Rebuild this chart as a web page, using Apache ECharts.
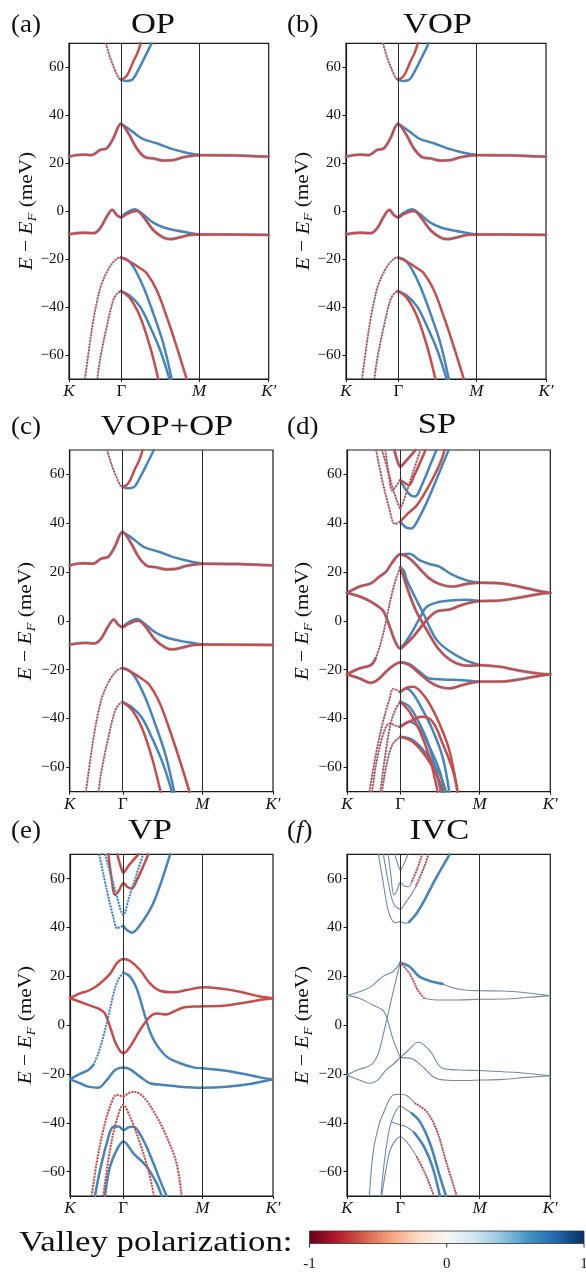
<!DOCTYPE html>
<html><head><meta charset="utf-8">
<script src="https://cdn.jsdelivr.net/npm/echarts@6/dist/echarts.min.js"></script>
<style>html,body{margin:0;padding:0;background:#fff}#c{width:586px;height:1274px}</style>
</head><body><div id="c"></div>
<script>
// ---------- axes / labels ----------
const kTicks = [0, 0.262, 0.652, 1];
const kLabels = ['K', 'Γ', 'M', 'K′'];
const eTicks = [-60, -40, -20, 0, 20, 40, 60];
const cbTicks = [-1, 0, 1];
const cbLabels = ['-1', '0', '1'];
const panelTitles = ['OP', 'VOP', 'VOP+OP', 'SP', 'VP', 'IVC'];
const panelTags = ['(a)', '(b)', '(c)', '(d)', '(e)', '(f)'];

// ---------- OP / VOP / VOP+OP bands [k, E(meV)] ----------
const opUpRedL = [[0.185,70],[0.205,64.2],[0.230,58.9],[0.247,55.8],[0.260,54.7]];
const opUpRedR = [[0.260,54.7],[0.289,56.4],[0.322,62.4],[0.342,65.8],[0.359,70]];
const opUpBlue = [[0.260,55.0],[0.285,54.3],[0.310,54.6],[0.325,55.6],[0.356,60.3],[0.389,65.8],[0.414,70]];
const opMidRed = [[0,22.7],[0.038,23.4],[0.072,23.6],[0.114,23.4],[0.155,25.5],[0.189,26.2],[0.222,30.4],[0.260,36.4],[0.297,32.5],[0.339,26.2],[0.381,22.5],[0.422,22.0],[0.472,21.1],[0.523,21.3],[0.573,22.5],[0.653,23.4],[0.823,23.3],[1,22.7]];
const opMidBlue = [[0.260,36.4],[0.297,34.5],[0.339,31.8],[0.372,30.0],[0.439,28.3],[0.506,26.2],[0.573,24.7],[0.653,23.4]];
const opLowRed = [[0,-9.7],[0.038,-9.2],[0.072,-9.0],[0.122,-9.2],[0.155,-7.2],[0.189,-2.3],[0.217,0.5],[0.239,-1.6],[0.260,-2.6],[0.289,-1.2],[0.339,0.1],[0.372,-2.3],[0.422,-7.9],[0.472,-11.0],[0.506,-11.7],[0.556,-10.9],[0.606,-9.9],[0.653,-9.7],[1,-9.9]];
const opLowBlue = [[0.260,-2.6],[0.289,-0.6],[0.331,0.8],[0.364,-0.9],[0.422,-4.8],[0.472,-6.7],[0.539,-8.1],[0.606,-9.1],[0.653,-9.7]];
const opV1L = [[0.080,-70],[0.102,-56.5],[0.122,-45.4],[0.142,-37.0],[0.164,-30.1],[0.205,-23.1],[0.239,-19.9],[0.260,-19.3]];
const opV1Red = [[0.260,-19.3],[0.306,-21.1],[0.356,-23.8],[0.389,-25.9],[0.439,-32.9],[0.489,-44.0],[0.539,-56.5],[0.589,-70]];
const opV1Blue = [[0.260,-19.3],[0.289,-20.1],[0.322,-23.1],[0.372,-31.5],[0.422,-42.6],[0.472,-55.1],[0.514,-70]];
const opV2L = [[0.142,-70],[0.155,-62.1],[0.189,-48.2],[0.222,-37.0],[0.242,-34.3],[0.260,-33.3]];
const opV2Red = [[0.260,-33.3],[0.306,-36.4],[0.356,-44.0],[0.406,-56.5],[0.447,-70]];
const opV2Blue = [[0.260,-33.3],[0.306,-35.4],[0.356,-39.8],[0.406,-48.2],[0.456,-57.9],[0.503,-70]];

// ---------- SP bands ----------
const spUpRed = [[0,11.5],[0.061,14.0],[0.118,15.4],[0.159,18.1],[0.192,20.1],[0.225,24.2],[0.262,27.2],[0.307,25.6],[0.356,21.5],[0.405,17.4],[0.454,15.1],[0.520,14.0],[0.585,15.1],[0.652,15.6],[0.749,15.4],[0.848,14.0],[0.946,12.2],[1,11.5]];
const spUpBlue = [[0.262,27.2],[0.307,27.5],[0.356,24.9],[0.405,23.3],[0.454,22.2],[0.520,18.8],[0.585,16.7],[0.652,15.6]];
const spLowRed = [[0,11.5],[0.061,10.0],[0.118,7.8],[0.175,4.4],[0.192,1.7],[0.216,-3.8],[0.241,-9.2],[0.262,-11.3],[0.290,-9.5],[0.326,-6.5],[0.392,0.3],[0.441,3.8],[0.507,4.7],[0.552,6.1],[0.602,7.4],[0.652,8.1],[0.749,8.3],[0.848,9.5],[0.946,11.0],[1,11.5]];
const spLowBlue = [[0.262,-11.3],[0.290,-8.5],[0.326,-3.7],[0.360,1.5],[0.392,5.8],[0.457,7.8],[0.507,8.3],[0.580,8.6],[0.652,8.1]];
const spRiseA = [[0,-21.9],[0.061,-19.5],[0.118,-18.1],[0.140,-15.5]];
const spRiseB = [[0.140,-15.5],[0.165,-9.5],[0.190,-1.0],[0.215,9.0],[0.240,17.0],[0.262,21.9]];
const spRiseBlueR = [[0.262,21.9],[0.280,20.5],[0.294,16.7],[0.330,10.5],[0.375,3.1],[0.441,-7.8],[0.507,-12.6],[0.580,-16.0],[0.652,-18.1]];
const spRiseRedR = [[0.262,21.9],[0.277,18.5],[0.300,12.5],[0.340,4.0],[0.392,-3.7],[0.450,-11.5],[0.507,-16.0],[0.560,-18.0],[0.610,-18.4],[0.652,-18.1],[0.749,-18.8],[0.848,-20.4],[0.946,-21.6],[1,-21.9]];
const spBotRed = [[0,-21.9],[0.061,-23.6],[0.118,-25.4],[0.159,-23.6],[0.192,-20.8],[0.225,-18.5],[0.262,-17.0],[0.307,-18.1],[0.356,-21.5],[0.405,-24.9],[0.454,-27.0],[0.503,-27.7],[0.569,-26.3],[0.652,-24.9],[0.749,-24.9],[0.848,-24.0],[0.946,-22.5],[1,-21.9]];
const spBotBlue = [[0.262,-17.0],[0.307,-17.7],[0.356,-20.8],[0.405,-23.6],[0.470,-24.0],[0.569,-24.3],[0.652,-24.9]];
const spC1L = [[0.143,70],[0.175,57],[0.205,47],[0.236,39.7],[0.262,40.6]];
const spC1Blue = [[0.262,40.6],[0.290,38.3],[0.315,37.8],[0.350,41.5],[0.400,50],[0.450,60],[0.500,70]];
const spC1Red = [[0.262,40.6],[0.300,44],[0.340,47],[0.380,52],[0.420,58],[0.460,65],[0.480,70]];
const spC2L = [[0.172,70],[0.200,62],[0.230,53],[0.262,45.7]];
const spC2R = [[0.262,45.7],[0.290,52],[0.325,61],[0.361,70]];
const spC3L = [[0.189,70],[0.205,60],[0.222,53.4],[0.240,55],[0.262,57.7]];
const spC3Red = [[0.262,57.7],[0.285,56.5],[0.304,55.5],[0.330,59.5],[0.353,63.6],[0.386,70]];
const spC3Blue = [[0.262,57.7],[0.300,52.5],[0.334,50.9],[0.370,56],[0.410,64],[0.440,70]];
const spC4 = [[0.233,70],[0.250,65],[0.262,63.2],[0.290,65.5],[0.337,70]];
const spV1L = [[0.110,-70],[0.143,-54.3],[0.175,-42.0],[0.208,-32.4],[0.228,-27.8],[0.262,-29.2]];
const spV1Red = [[0.262,-29.2],[0.300,-27.2],[0.326,-27.0],[0.360,-28.8],[0.405,-33.8],[0.454,-42.0],[0.503,-52.9],[0.544,-70]];
const spV1Blue = [[0.262,-29.2],[0.290,-27.7],[0.323,-29.7],[0.372,-36.5],[0.421,-44.7],[0.470,-55.7],[0.503,-70]];
const spV2L = [[0.164,-70],[0.190,-54],[0.215,-42],[0.240,-36],[0.262,-33.1]];
const spV2Red = [[0.262,-33.1],[0.307,-37.2],[0.356,-44.7],[0.405,-55.7],[0.446,-70]];
const spV2Blue = [[0.262,-33.1],[0.307,-35.2],[0.356,-42.0],[0.405,-51.6],[0.462,-70]];
const spV3L = [[0.123,-70],[0.145,-58],[0.172,-48],[0.195,-43],[0.211,-42.0],[0.240,-43],[0.262,-43.4]];
const spV3Red = [[0.262,-43.4],[0.323,-40.6],[0.367,-39.3],[0.421,-41.3],[0.470,-50.2],[0.520,-61.1],[0.544,-70]];
const spV3Blue = [[0.262,-43.4],[0.307,-41.3],[0.356,-44.1],[0.405,-51.6],[0.454,-61.1],[0.479,-70]];
const spV4L = [[0.172,-70],[0.197,-58],[0.225,-50.5],[0.262,-47.5]];
const spV4Red = [[0.262,-47.5],[0.323,-49.5],[0.389,-55.7],[0.446,-63.9],[0.470,-70]];
const spV4Blue = [[0.262,-47.5],[0.323,-48.8],[0.389,-54.3],[0.454,-62.5],[0.487,-70]];

// ---------- VP bands ----------
const vpUpRed = [[0,11.0],[0.049,13.0],[0.099,14.4],[0.148,17.1],[0.197,21.0],[0.230,25.3],[0.263,27.1],[0.296,26.3],[0.345,22.6],[0.394,17.1],[0.443,14.1],[0.509,13.5],[0.575,14.4],[0.652,15.5],[0.739,15.0],[0.837,13.7],[0.936,11.7],[1,11.0]];
const vpLowRed = [[0,11.0],[0.049,9.6],[0.099,8.0],[0.148,6.5],[0.172,4.8],[0.197,-0.6],[0.222,-6.8],[0.246,-10.5],[0.263,-11.5],[0.296,-8.8],[0.345,-2.0],[0.394,3.5],[0.427,4.8],[0.476,4.4],[0.509,5.5],[0.558,7.2],[0.608,7.6],[0.652,7.7],[0.739,7.8],[0.837,8.9],[0.936,10.3],[1,11.0]];
const vpRiseB1 = [[0,-22.2],[0.049,-20.0],[0.090,-18.4],[0.115,-16.3]];
const vpRiseB2 = [[0.115,-16.3],[0.140,-11.5],[0.164,-4.7],[0.189,3.5],[0.213,12.4],[0.238,18.8],[0.263,21.5]];
const vpRiseB3 = [[0.263,21.5],[0.296,19.9],[0.328,15.1],[0.361,6.2],[0.394,-2.7],[0.427,-8.1],[0.476,-12.9],[0.542,-15.6],[0.608,-17.3],[0.652,-17.7],[0.739,-18.4],[0.837,-19.7],[0.936,-21.4],[1,-22.2]];
const vpBotBlue = [[0,-22.2],[0.049,-23.8],[0.090,-25.2],[0.140,-25.6],[0.181,-22.5],[0.222,-18.4],[0.263,-17.4],[0.296,-18.1],[0.345,-21.1],[0.394,-23.8],[0.460,-24.5],[0.542,-25.2],[0.652,-25.6],[0.772,-25.2],[0.887,-24.1],[1,-22.2]];
const vpC1L = [[0.144,70],[0.181,55.4],[0.213,44.4],[0.233,39.7],[0.248,40.3],[0.263,40.6]];
const vpC1R = [[0.263,40.6],[0.280,39.0],[0.304,37.9],[0.345,41.0],[0.410,49.9],[0.493,70]];
const vpC2 = [[0.172,70],[0.200,62],[0.230,53],[0.263,45.2],[0.290,52],[0.325,61],[0.361,70]];
const vpC3 = [[0.189,70],[0.205,60],[0.222,53.4],[0.240,55],[0.263,58.1],[0.285,56.5],[0.304,56.0],[0.330,59.5],[0.353,63.6],[0.386,70]];
const vpC4 = [[0.233,70],[0.250,65],[0.263,62.5],[0.290,65.5],[0.337,70]];
const vpV1L = [[0.107,-70],[0.131,-56.6],[0.164,-43.0],[0.197,-33.4],[0.230,-28.6],[0.263,-29.3]];
const vpV1R = [[0.263,-29.3],[0.312,-27.3],[0.361,-29.3],[0.427,-37.5],[0.476,-45.7],[0.525,-56.6],[0.550,-70]];
const vpV2 = [[0.164,-70],[0.197,-51.2],[0.230,-38.9],[0.263,-32.7],[0.296,-37.5],[0.345,-48.4],[0.386,-59.4],[0.414,-70]];
const vpV3 = [[0.123,-70],[0.148,-59.4],[0.181,-48.4],[0.213,-41.6],[0.240,-41.5],[0.263,-43.0],[0.290,-41.8],[0.312,-41.6],[0.361,-47.1],[0.411,-56.6],[0.443,-63.5],[0.476,-70]];
const vpV4 = [[0.172,-70],[0.197,-58.0],[0.230,-51.2],[0.263,-47.7],[0.312,-52.5],[0.378,-58.0],[0.427,-64.8],[0.452,-70]];

// ---------- IVC bands ----------
const ivcUpT = [[0,12.1],[0.061,13.7],[0.118,15.8],[0.175,19.9],[0.225,21.9],[0.262,25.6]];
const ivcUpB = [[0.262,25.6],[0.307,24.0],[0.356,19.9],[0.421,17.8],[0.470,16.9]];
const ivcUpT2 = [[0.470,16.9],[0.552,14.7],[0.652,14.1],[0.766,14.0],[0.880,13.3],[1,12.1]];
const ivcMidR = [[0.262,25.6],[0.307,21.2],[0.348,14.4],[0.380,11.0]];
const ivcMidT = [[0.380,11.0],[0.438,10.3],[0.552,10.3],[0.652,10.6],[0.766,10.7],[0.880,11.3],[1,12.1]];
const ivcX1 = [[0,12.1],[0.061,11.0],[0.126,8.3],[0.175,6.2],[0.197,2.8],[0.225,-5.4],[0.262,-13.3]];
const ivcX2 = [[0,-20.4],[0.061,-18.1],[0.118,-16.3],[0.150,-12.5],[0.175,-5.0],[0.197,2.8],[0.233,15.8],[0.262,25.6]];
const ivcLowA = [[0,-20.4],[0.061,-22.5],[0.110,-23.8],[0.151,-22.5],[0.192,-18.4],[0.233,-15.6],[0.262,-13.3],[0.294,-10.9],[0.351,-7.0],[0.405,-10.2],[0.470,-17.7],[0.552,-18.4],[0.652,-18.6],[0.766,-19.1],[0.880,-19.7],[1,-20.7]];
const ivcLowB = [[0.262,-13.3],[0.315,-13.6],[0.372,-17.0],[0.438,-21.8],[0.520,-22.7],[0.652,-22.5],[0.766,-22.2],[0.880,-21.4],[1,-20.7]];
const ivcC1T = [[0.154,70],[0.175,60],[0.195,50],[0.215,44],[0.240,42.0],[0.262,42.4],[0.285,41.8],[0.305,42.2]];
const ivcC1B = [[0.305,42.2],[0.340,45.5],[0.380,51],[0.420,57.5],[0.460,63.5],[0.505,70]];
const ivcC2T = [[0.179,70],[0.200,60],[0.228,50],[0.262,47.5],[0.290,50.5],[0.320,54],[0.340,57]];
const ivcC2R = [[0.340,57],[0.360,61],[0.385,66],[0.400,70]];
const ivcC3T = [[0.203,70],[0.215,62],[0.231,53.3],[0.248,55.5],[0.262,58.4],[0.282,57.0],[0.302,56.7],[0.320,59]];
const ivcC3R = [[0.320,59],[0.345,64],[0.370,70]];
const ivcC4T = [[0.235,70],[0.250,66],[0.262,63.6],[0.280,66],[0.300,70]];
const ivcV1T = [[0.110,-70],[0.130,-51.2],[0.160,-40],[0.179,-36.1],[0.205,-31],[0.228,-28.6],[0.262,-28.3],[0.295,-28.9],[0.334,-32.0]];
const ivcV1R = [[0.334,-32.0],[0.392,-35.5],[0.441,-43.0],[0.490,-56.6],[0.540,-70]];
const ivcV2T = [[0.167,-70],[0.185,-55],[0.210,-42],[0.235,-36],[0.262,-33.1],[0.294,-34.8],[0.318,-36.1]];
const ivcV2B = [[0.318,-36.1],[0.359,-39.6],[0.408,-48.4],[0.457,-62.1],[0.487,-70]];
const ivcV3T = [[0.218,-39.6],[0.240,-40.3],[0.262,-40.9],[0.290,-41.5],[0.330,-44.0]];
const ivcV3B = [[0.330,-44.0],[0.380,-50],[0.420,-58],[0.457,-70]];
const ivcV4T = [[0.171,-70],[0.190,-60],[0.212,-51.2],[0.240,-47],[0.262,-45.7],[0.300,-48.5],[0.343,-53.9]];
const ivcV4R = [[0.343,-53.9],[0.380,-60],[0.405,-65],[0.428,-70]];

// ---------- which bands go in which panel (with drawing style code) ----------
const opList = [
  [opUpBlue,'B'],[opMidBlue,'B'],[opLowBlue,'B'],[opV1Blue,'B'],[opV2Blue,'B'],
  [opUpRedR,'R'],[opMidRed,'RB'],[opLowRed,'RB'],[opV1Red,'R'],[opV2Red,'R'],
  [opUpRedL,'D'],[opV1L,'D'],[opV2L,'D']];
const spList = [
  [spUpBlue,'B'],[spLowBlue,'B'],[spRiseBlueR,'B'],[spBotBlue,'B'],[spC1Blue,'B'],[spC3Blue,'B'],
  [spV1Blue,'B'],[spV2Blue,'B'],[spV3Blue,'B'],[spV4Blue,'B'],
  [spUpRed,'RB'],[spLowRed,'RB'],[spRiseA,'RB'],[spRiseRedR,'RB'],[spBotRed,'RB'],
  [spC1Red,'R'],[spC3Red,'R'],[spC4,'RB'],[spV1Red,'R'],[spV2Red,'R'],[spV3Red,'R'],[spV4Red,'R'],
  [spRiseB,'D'],[spC1L,'D'],[spC2L,'D'],[spC2R,'D'],[spC3L,'D'],[spV1L,'D'],[spV2L,'D'],[spV3L,'D'],[spV4L,'D']];
const vpList = [
  [vpRiseB1,'B'],[vpRiseB3,'B'],[vpBotBlue,'B'],[vpC1R,'B'],[vpV3,'B'],[vpV4,'B'],
  [vpUpRed,'R'],[vpLowRed,'R'],[vpC3,'R'],[vpC4,'R'],
  [vpRiseB2,'DB'],[vpC1L,'DB'],[vpC2,'DB'],[vpV1L,'DR'],[vpV1R,'DR'],[vpV2,'DR']];
const ivcList = [
  [ivcUpT,'T'],[ivcUpT2,'T'],[ivcMidT,'T'],[ivcX1,'T'],[ivcX2,'T'],[ivcLowA,'T'],[ivcLowB,'T'],
  [ivcC1T,'T'],[ivcC2T,'T'],[ivcC3T,'T'],[ivcC4T,'T'],[ivcV1T,'T'],[ivcV2T,'T'],[ivcV3T,'T'],[ivcV4T,'T'],
  [ivcUpB,'TB'],[ivcC1B,'TB'],[ivcV2B,'TB'],[ivcV3B,'TB'],
  [ivcMidR,'TR'],[ivcC2R,'TR'],[ivcC3R,'TR'],[ivcV1R,'TR'],[ivcV4R,'TR']];
const panelBands = [opList, opList, opList, spList, vpList, ivcList];

// ---------- layout (pixels) ----------
const layout = [
  {l:69,   t:43.3,  w:199.7, h:335.7, tagX:11,  tagY:25,  titX:153,   titY:25,  nameX:26.7,  nameY:211},
  {l:346,  t:43.3,  w:200,   h:335.7, tagX:287, tagY:25,  titX:437.5, titY:25,  nameX:303.5, nameY:211},
  {l:69.7, t:450,   w:203.3, h:341.7, tagX:11,  tagY:427, titX:167,   titY:427, nameX:26,    nameY:621},
  {l:347,  t:450,   w:203.3, h:341.7, tagX:287, tagY:427, titX:437,   titY:425, nameX:303,   nameY:621},
  {l:70,   t:854.3, w:203,   h:341.7, tagX:11,  tagY:831, titX:150,   titY:831, nameX:26,    nameY:1025},
  {l:347,  t:854.3, w:203.3, h:341.7, tagX:287, tagY:831, titX:439.5, titY:831, nameX:303,   nameY:1025}
];
const RED = '#c24f4f', BLUE = '#4a84b6', THIN = '#7489a7';
const SERIF = '"Liberation Serif", "Times New Roman", serif';

const grid = [], xAxis = [], yAxis = [], series = [], graphic = [];
function line(gi, data, color, width, type, z, opacity) {
  const dashed = Array.isArray(type);
  series.push({type:'line', xAxisIndex:gi, yAxisIndex:gi, data, smooth:0.35, symbol:'none', showSymbol:false,
    silent:true, animation:false, clip:true, z,
    lineStyle:{color, width, type: type || 'solid', opacity: opacity == null ? 1 : opacity, cap: dashed ? 'butt' : 'round'}});
}
function band(gi, data, st) {
  switch (st) {
    case 'B':  line(gi, data, BLUE, 2.5, 'solid', 3); break;
    case 'R':  line(gi, data, RED, 2.5, 'solid', 4); break;
    case 'RB': line(gi, data, BLUE, 3.2, 'solid', 3, 0.55); line(gi, data, RED, 2.3, 'solid', 4); break;
    case 'D':  line(gi, data, BLUE, 1.1, 'solid', 5, 0.75); line(gi, data, RED, 2.1, [1.6, 1.5], 6); break;
    case 'DB': line(gi, data, BLUE, 0.9, 'solid', 5, 0.6); line(gi, data, BLUE, 2.3, [1.6, 1.5], 6); break;
    case 'DR': line(gi, data, RED, 0.9, 'solid', 5, 0.6); line(gi, data, RED, 2.3, [1.6, 1.5], 6); break;
    case 'T':  line(gi, data, THIN, 1.1, 'solid', 3); break;
    case 'TB': line(gi, data, BLUE, 2.6, 'solid', 4); break;
    case 'TR': line(gi, data, '#9a8090', 1.0, 'solid', 4); line(gi, data, RED, 2.2, [1.4, 1.4], 5); break;
  }
}
function kLabel(v) {
  let i = 0, best = 1e9;
  kTicks.forEach((t, j) => { if (Math.abs(t - v) < best) { best = Math.abs(t - v); i = j; } });
  return i === 1 ? '{g|' + kLabels[i] + '}' : '{i|' + kLabels[i] + '}';
}

layout.forEach((L, gi) => {
  grid.push({left:L.l, top:L.t, width:L.w, height:L.h, show:true, borderColor:'#1a1a1a', borderWidth:1.2, backgroundColor:'transparent'});
  xAxis.push({gridIndex:gi, type:'value', min:0, max:1,
    axisLine:{show:true, onZero:false, lineStyle:{color:'#1a1a1a', width:1.2}},
    axisTick:{show:true, customValues:kTicks, length:3, lineStyle:{color:'#1a1a1a'}},
    axisLabel:{show:true, customValues:kTicks, formatter:kLabel, margin:4, showMinLabel:true, showMaxLabel:true,
      rich:{i:{fontFamily:SERIF, fontStyle:'italic', fontSize:17, color:'#111'}, g:{fontFamily:SERIF, fontSize:17, color:'#111'}}},
    splitLine:{show:false}});
  yAxis.push({gridIndex:gi, type:'value', min:-70, max:70,
    axisLine:{show:true, onZero:false, lineStyle:{color:'#1a1a1a', width:1.2}},
    axisTick:{show:true, customValues:eTicks, length:3.5, lineStyle:{color:'#1a1a1a'}},
    axisLabel:{show:true, customValues:eTicks, formatter:v => String(v).replace('-', '\u2212'),
      fontFamily:SERIF, fontSize:15, color:'#111', margin:5},
    splitLine:{show:false}});
  // high-symmetry vertical lines
  series.push({type:'line', xAxisIndex:gi, yAxisIndex:gi, data:[], silent:true, animation:false, z:2,
    markLine:{silent:true, symbol:['none','none'], animation:false, label:{show:false},
      lineStyle:{color:'#2a2a2a', width:1, type:'solid'},
      data:[{xAxis:kTicks[1]}, {xAxis:kTicks[2]}]}});
  panelBands[gi].forEach(([d, st]) => band(gi, d, st));

  // texts
  const tagText = gi === 5 ? '({f|f})' : panelTags[gi];
  graphic.push({type:'text', x:L.tagX, y:L.tagY, silent:true, scaleX:1.08,
    style:{text:tagText, font:'25px ' + SERIF, fill:'#111', align:'left', verticalAlign:'middle', textAlign:'left', textVerticalAlign:'middle',
      rich:{f:{fontFamily:SERIF, fontStyle:'italic', fontSize:25, fill:'#111'}}}});
  graphic.push({type:'text', x:L.titX, y:L.titY, silent:true, scaleX:1.15,
    style:{text:panelTitles[gi], font:'30px ' + SERIF, fill:'#111', align:'center', verticalAlign:'middle', textAlign:'center', textVerticalAlign:'middle'}});
  graphic.push({type:'text', x:L.nameX, y:L.nameY, rotation:Math.PI/2, silent:true, scaleX:1.12,
    style:{text:'{i|E} − {i|E}{s|F} (meV)', font:'19px ' + SERIF, fill:'#111', align:'center', verticalAlign:'middle', textAlign:'center', textVerticalAlign:'middle',
      rich:{i:{fontFamily:SERIF, fontStyle:'italic', fontSize:19, lineHeight:24, fill:'#111'},
            s:{fontFamily:SERIF, fontStyle:'italic', fontSize:13, lineHeight:13, verticalAlign:'bottom', fill:'#111'}}}});
});

// colorbar (RdBu)
const cb = {x:309.5, y:1231, w:274.5, h:12.5};
const rdbu = ['#67001f','#b2182b','#d6604d','#f4a582','#fddbc7','#f7f7f7','#d1e5f0','#92c5de','#4393c3','#2166ac','#053061'];
graphic.push({type:'rect', silent:true, shape:{x:cb.x, y:cb.y, width:cb.w, height:cb.h},
  style:{fill:new echarts.graphic.LinearGradient(0, 0, 1, 0, rdbu.map((c, i) => ({offset:i / 10, color:c}))), stroke:'#333', lineWidth:0.8}});
cbTicks.forEach((t, i) => {
  const x = cb.x + (t + 1) / 2 * cb.w;
  graphic.push({type:'line', silent:true, shape:{x1:x, y1:cb.y + cb.h, x2:x, y2:cb.y + cb.h + 4}, style:{stroke:'#333', lineWidth:1}});
  graphic.push({type:'text', x:x, y:1264, silent:true,
    style:{text:cbLabels[i], font:'15px ' + SERIF, fill:'#111', align:'center', verticalAlign:'middle', textAlign:'center', textVerticalAlign:'middle'}});
});
graphic.push({type:'text', x:19, y:1243, silent:true, scaleX:1.16,
  style:{text:'Valley polarization:', font:'30px ' + SERIF, fill:'#111', align:'left', verticalAlign:'middle', textAlign:'left', textVerticalAlign:'middle'}});

const chart = echarts.init(document.getElementById('c'), null, {renderer:'canvas'});
chart.setOption({animation:false, backgroundColor:'#fff', grid, xAxis, yAxis, series, graphic});
</script></body></html>
